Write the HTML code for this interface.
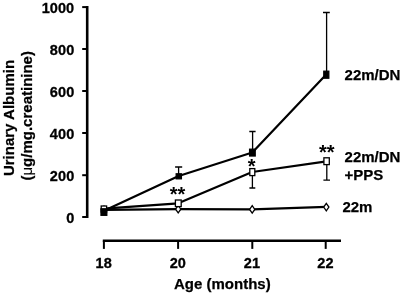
<!DOCTYPE html>
<html><head><meta charset="utf-8">
<style>
html,body{margin:0;padding:0;background:#fff;}
body{width:402px;height:295px;overflow:hidden;}
svg{display:block;filter:blur(0.3px);}
text{font-family:"Liberation Sans",Arial,sans-serif;font-weight:bold;fill:#000;}
.t14{font-size:14.5px;stroke:#000;stroke-width:0.3px;letter-spacing:0.1px;}
.t15{font-size:15px;stroke:#000;stroke-width:0.25px;}
.ast{font-size:20px;font-weight:bold;}
</style></head><body>
<svg width="402" height="295" viewBox="0 0 402 295">
<rect width="402" height="295" fill="#fff"/>
<!-- y axis -->
<g stroke="#000" fill="none">
<line x1="87.2" y1="6" x2="87.2" y2="218" stroke-width="2.6"/>
<g stroke-width="2">
<line x1="82.2" y1="7.1" x2="87.2" y2="7.1"/>
<line x1="82.2" y1="49" x2="87.2" y2="49"/>
<line x1="82.2" y1="91" x2="87.2" y2="91"/>
<line x1="82.2" y1="133" x2="87.2" y2="133"/>
<line x1="82.2" y1="175.2" x2="87.2" y2="175.2"/>
<line x1="82.2" y1="217" x2="87.2" y2="217"/>
</g>
<!-- x axis -->
<line x1="102.8" y1="240.8" x2="341" y2="240.8" stroke-width="2.4"/>
<g stroke-width="2">
<line x1="103.9" y1="240.5" x2="103.9" y2="248.9"/>
<line x1="178.1" y1="240.5" x2="178.1" y2="248.9"/>
<line x1="252.3" y1="240.5" x2="252.3" y2="248.9"/>
<line x1="325.7" y1="240.5" x2="325.7" y2="248.9"/>
</g>
</g>
<!-- y labels -->
<g class="t14" text-anchor="end">
<text x="74.3" y="12.6">1000</text>
<text x="74.3" y="54.5">800</text>
<text x="74.3" y="96.5">600</text>
<text x="74.3" y="138.5">400</text>
<text x="74.3" y="181">200</text>
<text x="74.3" y="223">0</text>
</g>
<g class="t14" text-anchor="middle">
<text x="103.7" y="268">18</text>
<text x="177.8" y="268">20</text>
<text x="252" y="268">21</text>
<text x="325.4" y="268">22</text>
</g>
<text class="t15" x="174" y="289.2">Age (months)</text>
<text class="t15" text-anchor="middle" transform="translate(14,118) rotate(-90)">Urinary Albumin</text>
<text class="t15" text-anchor="middle" transform="translate(31.5,115.8) rotate(-90)">(<tspan style="font-weight:normal;stroke-width:0.15px">μ</tspan>g/mg.creatinine)</text>

<!-- error bars -->
<g stroke="#000" stroke-width="1.3" fill="none">
<path d="M178.6 176V167M175.1 167H182.2"/>
<path d="M252.6 152V131.5M249.3 131.5H255.6"/>
<path d="M326.6 74V12.5M323 12.5H329.8"/>
<path d="M252.4 172V188M249.4 188H255.3"/>
<path d="M326.8 162V180.2M323.4 180.2H330"/>
</g>
<!-- lines -->
<g stroke="#000" stroke-width="2.2" fill="none" stroke-linejoin="round">
<polyline points="104,210.7 178.7,176 252.3,152.5 326.2,74.6"/>
<polyline points="104,208.6 178.2,203.3 252.2,172 326.5,161.3"/>
<polyline points="104,209.8 178.2,209.2 252.2,209.4 326.3,206.9"/>
</g>
<!-- markers -->
<g stroke="#000" stroke-width="1.3">
<!-- 22m diamonds -->
<g fill="#fff">
<path d="M104 206.1L106.6 209.8L104 213.5L101.4 209.8Z"/>
<path d="M178.2 205.5L180.8 209.2L178.2 212.9L175.6 209.2Z"/>
<path d="M252.2 205.7L254.8 209.4L252.2 213.1L249.6 209.4Z"/>
<path d="M326.3 203.4L328.9 207.1L326.3 210.8L323.7 207.1Z"/>
</g>
<!-- PPS open squares -->
<g fill="#fff">
<rect x="101.2" y="206" width="5.4" height="6"/>
<rect x="175.4" y="200" width="5.8" height="6.6"/>
<rect x="249.8" y="168.6" width="5" height="7"/>
<rect x="323.9" y="157.8" width="5.4" height="6.8"/>
</g>
<!-- DN filled squares -->
<g fill="#000">
<rect x="101" y="208.8" width="5.8" height="6.5"/>
<rect x="176.2" y="173.8" width="5.2" height="5"/>
<rect x="249.6" y="149.2" width="5.6" height="6.8"/>
<rect x="323.8" y="71.2" width="5" height="7"/>
</g>
</g>
<!-- asterisks -->
<text class="ast" x="169.8" y="201.2">**</text>
<text class="ast" x="247.8" y="172.7">*</text>
<text class="ast" x="318.9" y="159.2">**</text>
<!-- series labels -->
<text class="t15" x="344.6" y="80.1">22m/DN</text>
<text class="t15" x="344.6" y="161.6">22m/DN</text>
<text class="t15" x="344.6" y="179.7">+PPS</text>
<text class="t15" x="342.4" y="212">22m</text>
</svg>
</body></html>
